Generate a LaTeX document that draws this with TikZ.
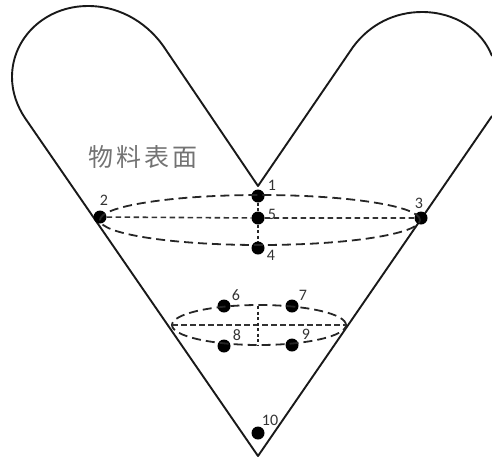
\documentclass[tikz,border=0pt]{standalone}
\usepackage{fontspec}
\setmainfont{Carlito}
\newfontfamily\cjk[LetterSpace=12]{Noto Sans CJK SC}
\usetikzlibrary{positioning}
\tikzset{
  probe/.style={circle, fill=black, inner sep=0pt, minimum size=13pt},
  num/.style={inner sep=0pt, font=\fontsize{16}{16}\selectfont, black!80},
  wall/.style={line width=1.9pt, black!90, line join=round},
  rim/.style={line width=1.8pt, black!85, dash pattern=on 9pt off 5pt},
  chord/.style={line width=1.6pt, black!80, dash pattern=on 5.5pt off 3.5pt},
  axis/.style={line width=1.2pt, black!85, dash pattern=on 3pt off 2.5pt}
}
\begin{document}
\begin{tikzpicture}[x=1pt, y=-1pt]
    \useasboundingbox (0,0) rectangle (492,459);

    % Contorno
    \draw[wall] (492,116) -- (258,456) -- (25,118)
        .. controls (17,106) and (12,92) .. (12,77)
        .. controls (12,38) and (45,6) .. (88,6)
        .. controls (122,6) and (150,25) .. (166,50)
        -- (258,186) -- (353,47)
        .. controls (370,24) and (395,12) .. (422,12)
        .. controls (455,12) and (482,30) .. (492,56);

    % Punti
    \node[probe] (p1) at (258,196) {};
    \node[probe] (p2) at (100,217) {};
    \node[probe] (p3) at (421,218) {};
    \node[probe] (p4) at (258,248) {};
    \node[probe] (p5) at (258,218) {};
    \node[probe] (p6) at (224,306) {};
    \node[probe] (p7) at (292,306) {};
    \node[probe] (p8) at (224,346) {};
    \node[probe] (p9) at (292,345) {};
    \node[probe] (p10) at (258,433) {};

    % Numeri
    \node[num] (n1) at (272,185) {1};
    \node[num] (n2) at (104,200) {2};
    \node[num] (n3) at (419,203) {3};
    \node[num] (n4) at (271,255) {4};
    \node[num] (n5) at (272,214) {5};
    \node[num] (n6) at (236,295) {6};
    \node[num] (n7) at (303,295) {7};
    \node[num] (n8) at (237,335) {8};
    \node[num] (n9) at (306,334) {9};
    \node[num] (n10) at (270,420) {10};

    % Sezione superiore
    \coordinate (c5) at (260,220);
    \draw[rim] (c5) ellipse (160pt and 25pt);
    \draw[chord] (p2) -- (p5) -- (p3);
    \draw[axis] (p1) -- (p5) -- (p4);

    % Sezione inferiore
    \coordinate (c0) at (259,325);
    \coordinate (c1) at (172,325);
    \coordinate (c2) at (346,325);
    \coordinate (c3) at (258,306);
    \coordinate (c4) at (258,345);
    \draw[rim] (c0) ellipse (87pt and 20pt);
    \draw[chord] (c1) -- (c2);
    \draw[axis] (c3) -- (c4);

    \node[inner sep=0pt, black!55, font=\cjk\fontsize{25}{25}\selectfont] (surface) at (143,157) {物料表面};
\end{tikzpicture}
\end{document}
